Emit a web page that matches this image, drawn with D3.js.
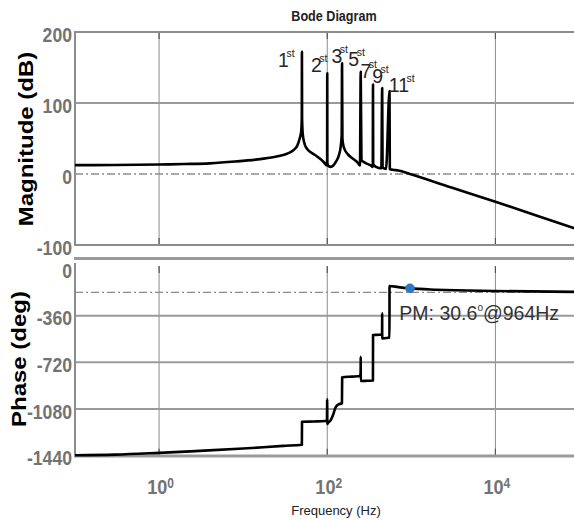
<!DOCTYPE html>
<html>
<head>
<meta charset="utf-8">
<script src="https://cdnjs.cloudflare.com/ajax/libs/d3/7.8.5/d3.min.js"></script>
<style>
  body { margin: 0; background: #fff; overflow: hidden; }
  #chart { width: 574px; height: 520px; overflow: hidden; }
  svg { display: block; font-family: Arial, "Liberation Sans", sans-serif; }
</style>
</head>
<body>
<div id="chart"></div>
<script>
// frequency ticks (Hz) and their exponents
var freqTicks = [1, 100, 10000];
var freqTickExp = ["0", "2", "4"];

// magnitude response (Hz, dB)
var magFreq = [0.1, 0.3, 1, 2, 4, 8, 16, 25, 34, 40, 44, 47, 49, 49.8, 50, 50.2, 51, 53, 57, 65, 75, 85, 95, 98,
  99.7, 100, 100.3, 104, 110, 118, 128, 138, 145, 148.5, 150, 151.5, 157, 175, 200, 230, 245,
  250, 255, 280, 330, 348, 350, 352, 380, 440, 450, 455, 500, 550, 555, 600, 700, 964, 3000, 10000, 30000, 100000];
var magDb = [12.5, 12.7, 13.3, 14, 15, 17.5, 21, 24.5, 29, 34, 40, 50, 60, 80, 172, 80, 58, 45, 36, 30, 25, 20, 14, 12,
  20, 142, 15, 11, 10, 12, 18, 27, 40, 55, 156, 50, 38, 28, 22, 16, 12,
  144, 20, 16, 12, 10, 126, 14, 10, 8, 121, 9, 7, 117, 7, 6, 5, 0, -19, -39, -58, -79];
var magTicks = [200, 100, 0, -100];

// phase response (Hz, deg)
var phaseFreq = [0.1, 0.3, 1, 3, 10, 30, 49.9, 50.1, 70, 95, 99.3, 99.7, 100.3, 101.5, 110, 118, 125, 135, 149.5, 150.5,
  200, 245, 249.5, 250, 250.5, 300, 349.5, 350.5, 420, 449, 449.7, 450.5, 530, 549.5, 550.5, 700, 964, 2000, 10000, 100000];
var phaseDeg = [-1436, -1432, -1418, -1403, -1385, -1364, -1356, -1178, -1176, -1172, -1165, -1005, -1196, -1190, -1165, -1120, -1070, -1045, -1036, -835,
  -830, -825, -800, -677, -864, -862, -860, -509, -507, -500, -342, -535, -530, -528, -131, -140, -149.4, -160, -170, -177];
var phaseTicks = [0, -360, -720, -1080, -1440];

// harmonic labels (placed in data units)
var harmNames = ["1", "2", "3", "5", "7", "9", "11"];
var harmLabelFreq = [26, 64, 112, 178, 248, 342, 540];
var harmLabelDb = [151, 144, 156, 152, 135, 128, 115.5];

// phase margin marker
var pmFreq = 964;
var pmPhase = -149.4;
var pmLabelFreq = 720;
var pmLabelPhase = -393;

// the figure runs past the right edge of the window
var svgWidth = 590;
var svgHeight = 520;
var rightEdge = 590;

var svg = d3.select("#chart")
  .append("svg")
  .attr("width", svgWidth)
  .attr("height", svgHeight);

svg.append("rect").attr("width", svgWidth).attr("height", svgHeight).attr("fill", "#fff");

var xScale = d3.scaleLog().domain([0.1, 100000]).range([75, 579.5]);
var magScale = d3.scaleLinear().domain([-100, 200]).range([245, 32]);
var phaseScale = d3.scaleLinear().domain([-1440, 23]).range([455.7, 266]);

var gridColor = "#9a9a9a";
var tickColor = "#737373";

function drawGrid(yScale, hLines, dashVal, yTop, yBot) {
  var g = svg.append("g");
  // vertical grid
  g.selectAll(".vg").data(freqTicks).enter().append("line")
    .attr("x1", d => xScale(d)).attr("x2", d => xScale(d))
    .attr("y1", yTop).attr("y2", yBot)
    .attr("stroke", "#8c8c8c").attr("stroke-width", 1);
  // tick marks inside
  g.selectAll(".tk1").data(freqTicks).enter().append("line")
    .attr("x1", d => xScale(d)).attr("x2", d => xScale(d))
    .attr("y1", yBot).attr("y2", yBot - 7)
    .attr("stroke", "#555").attr("stroke-width", 1.2);
  g.selectAll(".tk2").data(freqTicks).enter().append("line")
    .attr("x1", d => xScale(d)).attr("x2", d => xScale(d))
    .attr("y1", yTop).attr("y2", yTop + 7)
    .attr("stroke", "#555").attr("stroke-width", 1.2);
  // horizontal grid
  g.selectAll(".hg").data(hLines).enter().append("line")
    .attr("x1", 75).attr("x2", rightEdge)
    .attr("y1", d => yScale(d)).attr("y2", d => yScale(d))
    .attr("stroke", gridColor).attr("stroke-width", 2);
  // dash-dot reference line
  g.append("line")
    .attr("x1", 75).attr("x2", rightEdge)
    .attr("y1", yScale(dashVal)).attr("y2", yScale(dashVal))
    .attr("stroke", "#8c8c8c").attr("stroke-width", 1.3)
    .attr("stroke-dasharray", "8,3,2,3");
}

drawGrid(magScale, [100], 0, 32, 245);
drawGrid(phaseScale, [-360, -720, -1080], -180, 266, 455.7);

// borders
svg.append("line").attr("x1", 75).attr("x2", rightEdge).attr("y1", 32).attr("y2", 32)
  .attr("stroke", "#8c8c8c").attr("stroke-width", 2);
svg.append("line").attr("x1", 75).attr("x2", rightEdge).attr("y1", 245).attr("y2", 245)
  .attr("stroke", "#8c8c8c").attr("stroke-width", 2);
svg.append("line").attr("x1", 75).attr("x2", 75).attr("y1", 31).attr("y2", 246)
  .attr("stroke", "#8c8c8c").attr("stroke-width", 2);
svg.append("line").attr("x1", 74).attr("x2", rightEdge).attr("y1", 258.5).attr("y2", 258.5)
  .attr("stroke", "#999").attr("stroke-width", 3);
svg.append("line").attr("x1", 75).attr("x2", 75).attr("y1", 263).attr("y2", 457)
  .attr("stroke", "#8c8c8c").attr("stroke-width", 2);
svg.append("line").attr("x1", 74).attr("x2", rightEdge).attr("y1", 456).attr("y2", 456)
  .attr("stroke", "#999").attr("stroke-width", 3);

// curves
var magData = magFreq.map((f, i) => [f, magDb[i]]);
var phaseData = phaseFreq.map((f, i) => [f, phaseDeg[i]]);

var magLine = d3.line()
  .x(d => xScale(d[0]))
  .y(d => magScale(d[1]))
  .curve(d3.curveMonotoneX);
var phaseLine = d3.line()
  .x(d => xScale(d[0]))
  .y(d => phaseScale(d[1]))
  .curve(d3.curveMonotoneX);

svg.append("path")
  .datum(magData)
  .attr("d", magLine)
  .attr("fill", "none")
  .attr("stroke", "#000")
  .attr("stroke-width", 2.6)
  .attr("stroke-linejoin", "round");

svg.append("path")
  .datum(phaseData)
  .attr("d", phaseLine)
  .attr("fill", "none")
  .attr("stroke", "#000")
  .attr("stroke-width", 2.6)
  .attr("stroke-linejoin", "round");

// y tick labels (condensed bold)
function yTickLabels(yScale, ticks) {
  svg.append("g").selectAll("g").data(ticks).enter().append("g")
    .attr("transform", d => `translate(72, ${yScale(d) + 9.5})`)
    .append("text")
    .attr("transform", "scale(0.86,1)")
    .attr("text-anchor", "end")
    .attr("font-size", 20.5)
    .attr("font-weight", "bold")
    .attr("fill", tickColor)
    .text(d => d);
}
yTickLabels(magScale, magTicks);
yTickLabels(phaseScale, phaseTicks);

// x tick labels
var xt = svg.append("g").selectAll("g").data(freqTicks).enter().append("g")
  .attr("transform", d => `translate(${xScale(d) + 1.5}, 494)`)
  .append("text")
  .attr("transform", "scale(0.86,1)")
  .attr("text-anchor", "middle")
  .attr("font-weight", "bold")
  .attr("fill", tickColor);
xt.append("tspan").attr("font-size", 21).text("10");
xt.append("tspan").attr("font-size", 14).attr("dy", -6).text((d, i) => freqTickExp[i]);

// axis titles
svg.append("text")
  .attr("transform", "translate(33, 139) rotate(-90) scale(1,0.86)")
  .attr("text-anchor", "middle")
  .attr("font-size", 24)
  .attr("font-weight", "bold")
  .attr("fill", "#000")
  .text("Magnitude (dB)");

svg.append("text")
  .attr("transform", "translate(26, 359) rotate(-90) scale(1,0.86)")
  .attr("text-anchor", "middle")
  .attr("font-size", 24)
  .attr("font-weight", "bold")
  .attr("fill", "#000")
  .text("Phase (deg)");

svg.append("text")
  .attr("x", 334)
  .attr("y", 21)
  .attr("transform", "translate(334,0) scale(0.9,1) translate(-334,0)")
  .attr("text-anchor", "middle")
  .attr("font-size", 14)
  .attr("font-weight", "bold")
  .attr("fill", "#222")
  .text("Bode Diagram");

svg.append("text")
  .attr("x", 336)
  .attr("y", 515)
  .attr("text-anchor", "middle")
  .attr("font-size", 13)
  .attr("fill", "#222")
  .text("Frequency  (Hz)");

// harmonic labels
var hl = svg.append("g").selectAll("text").data(harmNames).enter().append("text")
  .attr("x", (d, i) => xScale(harmLabelFreq[i]))
  .attr("y", (d, i) => magScale(harmLabelDb[i]))
  .attr("fill", "#262626");
hl.append("tspan").attr("font-size", 19.5).text(d => d);
hl.append("tspan").attr("font-size", 10.5).attr("dx", -2.5).attr("dy", -10).text("st");

// phase margin marker
svg.append("circle")
  .attr("cx", xScale(pmFreq))
  .attr("cy", phaseScale(pmPhase))
  .attr("r", 4.8)
  .attr("fill", "#2b78be");

var pm = svg.append("text")
  .attr("x", xScale(pmLabelFreq))
  .attr("y", phaseScale(pmLabelPhase))
  .attr("font-size", 19.5)
  .attr("fill", "#333");
pm.append("tspan").text("PM: 30.6");
pm.append("tspan").attr("font-size", 10).attr("dy", -9).text("o");
pm.append("tspan").attr("dy", 9).text("@964Hz");
</script>
</body>
</html>
